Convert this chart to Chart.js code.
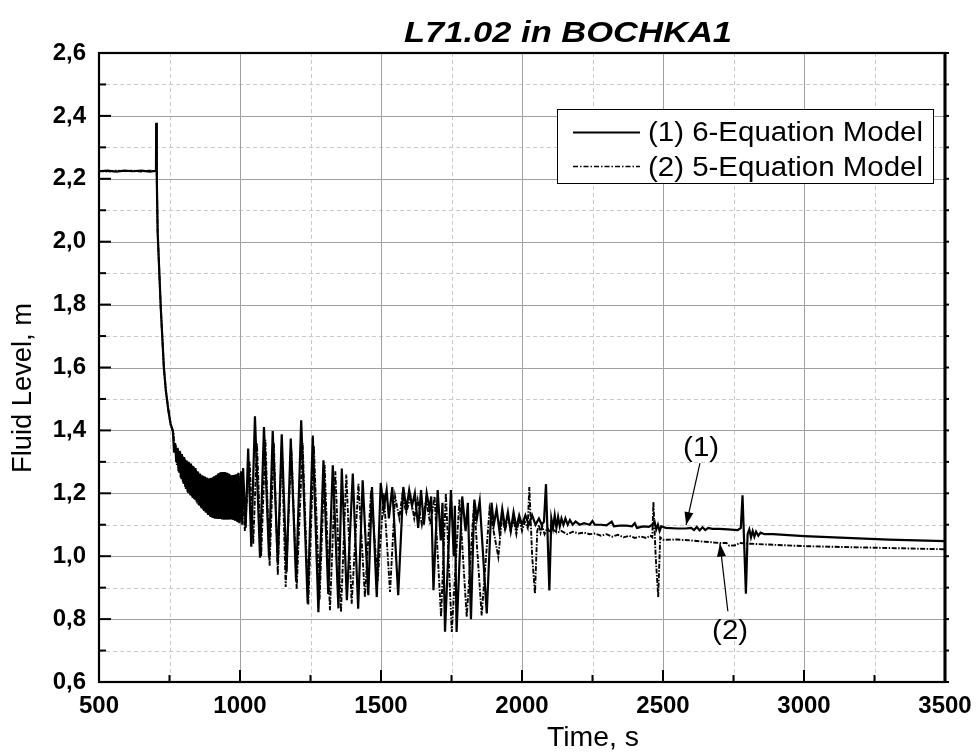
<!DOCTYPE html>
<html>
<head>
<meta charset="utf-8">
<script src="https://cdn.jsdelivr.net/npm/chart.js@4/dist/chart.umd.min.js"></script>
<style>
  html, body { margin: 0; padding: 0; background: #ffffff; }
  #wrap { width: 977px; height: 753px; }
</style>
</head>
<body>
<div id="wrap"><canvas id="c" width="977" height="753"></canvas></div>
<script>
// ---------- DATA ----------
const chartTitle = 'L71.02 in BOCHKA1';
const xAxisTitle = 'Time, s';
const yAxisTitle = 'Fluid Level, m';
const seriesNames = ['(1) 6-Equation Model', '(2) 5-Equation Model'];
const annotationLabels = ['(1)', '(2)'];

// (1) 6-Equation Model : [time s, level m]
const sixEquationPoints = [
  [500,2.224],[530,2.226],[560,2.223],[590,2.226],[620,2.224],[650,2.226],[680,2.223],[700,2.225],[702,2.226],
  [703,2.378],[705,2.20],[708,2.03],[714,1.90],[719,1.79],[725,1.687],[730,1.60],[737,1.527],[746,1.464],[754,1.42],
  [758,1.41],[762,1.40],[766,1.33],[770,1.36],[774,1.30],[778,1.345],[782,1.27],[786,1.335],[790,1.25],[794,1.325],
  [798,1.235],[802,1.315],[806,1.22],[810,1.305],[814,1.205],[818,1.30],[822,1.197],[826,1.295],[830,1.19],[834,1.287],
  [838,1.182],[842,1.28],[846,1.173],[850,1.27],[854,1.163],[858,1.263],[862,1.155],[866,1.257],[870,1.148],[874,1.254],
  [878,1.14],[882,1.25],[886,1.132],[890,1.247],[894,1.127],[898,1.249],[902,1.122],[906,1.252],[910,1.12],[914,1.256],
  [918,1.119],[922,1.262],[926,1.118],[930,1.266],[934,1.118],[938,1.268],[942,1.117],[946,1.268],[950,1.117],[954,1.265],
  [958,1.117],[962,1.262],[966,1.117],[970,1.257],[974,1.116],[978,1.258],[982,1.113],[986,1.26],[990,1.11],[994,1.265],
  [998,1.105],[1004,1.27],[1008,1.10],[1011,1.28],[1020,1.09],[1029,1.342],[1040,1.03],[1053,1.445],[1071,0.995],
  [1085,1.411],[1103,0.995],[1116,1.398],[1134,0.978],[1148,1.388],[1165,0.95],[1180,1.374],[1199,0.92],[1217,1.432],
  [1240,0.85],[1258,1.384],[1278,0.822],[1296,1.305],[1313,0.88],[1329,1.289],[1349,0.834],[1361,1.279],[1379,0.86],
  [1400,1.263],[1419,0.833],[1435,1.241],[1455,0.876],[1468,1.22],[1485,0.87],[1499,1.233],[1510,1.15],[1520,1.21],
  [1528,1.12],[1540,1.22],[1561,0.876],[1579,1.22],[1590,1.15],[1600,1.21],[1610,1.16],[1620,1.20],[1632,1.09],
  [1642,1.21],[1652,1.10],[1662,1.20],[1672,1.15],[1678,1.19],[1686,0.892],[1701,1.21],[1712,1.05],[1718,1.17],
  [1727,0.76],[1748,1.21],[1758,1.00],[1762,1.16],[1768,0.759],[1788,1.19],[1800,1.08],[1808,1.17],[1819,0.80],
  [1831,1.18],[1840,1.12],[1850,1.175],[1875,0.818],[1892,1.17],[1900,1.10],[1910,1.15],[1920,1.08],
  [1930,1.15],[1940,1.09],[1950,1.14],[1960,1.08],[1970,1.14],[1980,1.09],[1990,1.13],[2000,1.10],[2012,1.13],
  [2024,1.10],[2036,1.13],[2048,1.10],[2060,1.12],[2070,1.10],[2078,1.11],[2085,1.229],[2097,0.891],[2104,1.12],
  [2110,1.09],[2116,1.13],[2122,1.09],[2128,1.125],[2134,1.095],[2140,1.12],[2147,1.10],[2154,1.12],[2162,1.10],
  [2170,1.115],[2180,1.10],[2190,1.11],[2205,1.10],[2220,1.105],[2240,1.10],[2250,1.112],[2258,1.10],[2280,1.10],
  [2300,1.098],[2318,1.11],[2326,1.095],[2345,1.097],[2370,1.097],[2390,1.095],[2400,1.105],[2408,1.09],[2430,1.095],
  [2450,1.093],[2462,1.10],[2470,1.11],[2476,1.085],[2482,1.10],[2488,1.08],[2494,1.095],[2510,1.09],[2550,1.088],
  [2580,1.088],[2600,1.09],[2610,1.083],[2620,1.093],[2630,1.082],[2640,1.092],[2650,1.083],[2660,1.09],[2675,1.087],
  [2700,1.087],[2730,1.085],[2765,1.083],[2776,1.09],[2782,1.194],[2794,0.881],[2800,1.07],[2806,1.085],[2812,1.06],
  [2818,1.08],[2824,1.062],[2830,1.078],[2838,1.065],[2846,1.075],[2860,1.07],[2890,1.07],[3000,1.064],[3128,1.059],
  [3300,1.053],[3500,1.048]
];

// (2) 5-Equation Model : [time s, level m]
const fiveEquationPoints = [
  [500,2.225],[530,2.223],[560,2.226],[590,2.224],[620,2.226],[650,2.223],[680,2.226],[700,2.224],[702,2.225],
  [703,2.375],[705,2.20],[708,2.03],[714,1.90],[719,1.79],[725,1.687],[730,1.60],[737,1.527],[746,1.464],[754,1.42],
  [760,1.40],[764,1.395],[768,1.33],[772,1.355],[776,1.29],[780,1.342],[784,1.265],[788,1.332],[792,1.245],[796,1.32],
  [800,1.228],[804,1.31],[808,1.213],[812,1.302],[816,1.2],[820,1.296],[824,1.193],[828,1.29],[832,1.185],[836,1.283],
  [840,1.177],[844,1.275],[848,1.168],[852,1.267],[856,1.16],[860,1.26],[864,1.152],[868,1.255],[872,1.144],[876,1.252],
  [880,1.136],[884,1.248],[888,1.13],[892,1.247],[896,1.125],[900,1.25],[904,1.121],[908,1.254],[912,1.12],[916,1.258],
  [920,1.118],[924,1.264],[928,1.118],[932,1.267],[936,1.117],[940,1.268],[944,1.117],[948,1.267],[952,1.117],[956,1.264],
  [960,1.117],[964,1.26],[968,1.117],[972,1.257],[976,1.115],[980,1.259],[984,1.112],[988,1.262],[992,1.108],[996,1.262],
  [1000,1.11],[1008,1.25],[1017,1.08],[1034,1.30],[1047,1.04],[1060,1.36],[1075,1.00],[1090,1.37],[1105,0.97],
  [1120,1.36],[1134,0.94],[1148,1.35],[1162,0.902],[1182,1.34],[1201,0.897],[1222,1.36],[1242,0.844],[1262,1.35],
  [1282,0.86],[1300,1.29],[1319,0.828],[1338,1.27],[1358,0.822],[1377,1.26],[1396,0.849],[1420,1.23],[1443,0.87],
  [1465,1.21],[1488,0.92],[1510,1.20],[1532,0.886],[1550,1.19],[1565,1.12],[1575,1.19],[1590,1.14],[1605,1.19],
  [1618,1.12],[1630,1.18],[1645,1.10],[1660,1.18],[1675,1.10],[1690,1.19],[1713,0.807],[1730,1.20],[1751,0.759],
  [1778,1.18],[1804,0.807],[1830,1.17],[1857,0.812],[1885,1.15],[1916,0.998],[1930,1.13],[1940,1.08],[1950,1.13],
  [1960,1.08],[1970,1.12],[1980,1.07],[1990,1.12],[2000,1.08],[2010,1.11],[2020,1.09],[2026,1.22],[2036,1.0],
  [2046,0.881],[2054,1.08],[2060,1.10],[2066,1.075],[2072,1.095],[2080,1.07],[2090,1.09],[2100,1.075],[2110,1.085],
  [2125,1.075],[2140,1.08],[2160,1.07],[2180,1.078],[2200,1.072],[2220,1.075],[2240,1.07],[2260,1.072],[2280,1.065],
  [2300,1.07],[2320,1.062],[2340,1.068],[2360,1.06],[2380,1.065],[2400,1.058],[2420,1.063],[2440,1.058],[2455,1.065],
  [2462,1.06],[2466,1.172],[2474,1.0],[2483,0.87],[2490,1.06],[2500,1.052],[2550,1.053],[2600,1.05],[2650,1.046],
  [2700,1.042],[2725,1.042],[2735,1.033],[2760,1.035],[2770,1.042],[2800,1.04],[3000,1.032],[3250,1.027],[3500,1.022]
];

// axis ranges / steps
const xRange = [500, 3500];
const yRange = [0.6, 2.6];
const xStep = 500;
const yStep = 0.2;

// annotation anchors: [label x (s), label baseline y (m), arrow tail x, tail y, arrow tip x, tip y]
const annotation1 = [2635, 1.319, 2631, 1.296, 2582, 1.099];
const annotation2 = [2738, 0.736, 2730, 0.825, 2702, 1.040];

// ---------- DRAWING ----------
const FONT = '"Liberation Sans", Arial, sans-serif';

function toXY(arr) { return arr.map(p => ({ x: p[0], y: p[1] })); }

function arrow(ctx, x1, y1, x2, y2) {
  ctx.beginPath(); ctx.moveTo(x1, y1); ctx.lineTo(x2, y2); ctx.stroke();
  const ang = Math.atan2(y2 - y1, x2 - x1);
  const L = 13, W = 4.5;
  ctx.beginPath();
  ctx.moveTo(x2, y2);
  ctx.lineTo(x2 - L * Math.cos(ang) + W * Math.sin(ang), y2 - L * Math.sin(ang) - W * Math.cos(ang));
  ctx.lineTo(x2 - L * Math.cos(ang) - W * Math.sin(ang), y2 - L * Math.sin(ang) + W * Math.cos(ang));
  ctx.closePath(); ctx.fill();
}

function fitText(ctx, text, x, y, width, align) {
  const w = ctx.measureText(text).width;
  const s = width / w;
  ctx.save();
  ctx.translate(x, y);
  ctx.scale(s, 1);
  ctx.textAlign = align;
  ctx.fillText(text, 0, 0);
  ctx.restore();
}

const decor = {
  id: 'decor',
  beforeDraw(chart) {
    const ctx = chart.ctx;
    ctx.save(); ctx.fillStyle = '#ffffff'; ctx.fillRect(0, 0, chart.width, chart.height); ctx.restore();
  },
  beforeDatasetsDraw(chart) {
    const { ctx, chartArea: a, scales: { x, y } } = chart;
    const xt = x.ticks.map(t => t.value), yt = y.ticks.map(t => t.value);
    ctx.save();
    ctx.lineWidth = 1;
    ctx.strokeStyle = '#c9c9c9'; ctx.setLineDash([4, 3]);
    for (let i = 0; i < yt.length - 1; i++) {
      const py = Math.round(y.getPixelForValue((yt[i] + yt[i + 1]) / 2)) + 0.5;
      ctx.beginPath(); ctx.moveTo(a.left, py); ctx.lineTo(a.right, py); ctx.stroke();
    }
    for (let i = 0; i < xt.length - 1; i++) {
      const px = Math.round(x.getPixelForValue((xt[i] + xt[i + 1]) / 2)) + 0.5;
      ctx.beginPath(); ctx.moveTo(px, a.top); ctx.lineTo(px, a.bottom); ctx.stroke();
    }
    ctx.setLineDash([]); ctx.strokeStyle = '#a0a0a0';
    yt.forEach(v => { const py = Math.round(y.getPixelForValue(v)) + 0.5;
      ctx.beginPath(); ctx.moveTo(a.left, py); ctx.lineTo(a.right, py); ctx.stroke(); });
    xt.forEach(v => { const px = Math.round(x.getPixelForValue(v)) + 0.5;
      ctx.beginPath(); ctx.moveTo(px, a.top); ctx.lineTo(px, a.bottom); ctx.stroke(); });
    ctx.restore();
  },
  afterDatasetsDraw(chart) {
    const { ctx, chartArea: a, scales: { x, y } } = chart;
    const xt = x.ticks.map(t => t.value), yt = y.ticks.map(t => t.value);
    ctx.save();
    ctx.strokeStyle = '#000'; ctx.fillStyle = '#000';
    ctx.lineWidth = 2;
    const yMinor = [], xMinor = [];
    for (let i = 0; i < yt.length - 1; i++) yMinor.push((yt[i] + yt[i + 1]) / 2);
    for (let i = 0; i < xt.length - 1; i++) xMinor.push((xt[i] + xt[i + 1]) / 2);
    yt.forEach(v => { const py = y.getPixelForValue(v);
      ctx.beginPath(); ctx.moveTo(a.left, py); ctx.lineTo(a.left + 12, py); ctx.stroke();
      ctx.beginPath(); ctx.moveTo(a.right, py); ctx.lineTo(a.right + 4, py); ctx.stroke(); });
    yMinor.forEach(v => { const py = y.getPixelForValue(v);
      ctx.beginPath(); ctx.moveTo(a.left, py); ctx.lineTo(a.left + 7, py); ctx.stroke();
      ctx.beginPath(); ctx.moveTo(a.right, py); ctx.lineTo(a.right + 4, py); ctx.stroke(); });
    xt.forEach(v => { const px = x.getPixelForValue(v);
      ctx.beginPath(); ctx.moveTo(px, a.bottom); ctx.lineTo(px, a.bottom - 12); ctx.stroke(); });
    xMinor.forEach(v => { const px = x.getPixelForValue(v);
      ctx.beginPath(); ctx.moveTo(px, a.bottom); ctx.lineTo(px, a.bottom - 7); ctx.stroke(); });
    ctx.lineWidth = 2.2;
    ctx.strokeRect(a.left, a.top, a.right - a.left, a.bottom - a.top);
    ctx.lineWidth = 3;
    ctx.beginPath(); ctx.moveTo(a.right, a.top - 1); ctx.lineTo(a.right, a.bottom + 1); ctx.stroke();

    // legend
    const lx = 557, ly = 109, lw = 376, lh = 74;
    ctx.fillStyle = '#fff'; ctx.fillRect(lx, ly, lw, lh);
    ctx.lineWidth = 1; ctx.strokeStyle = '#000'; ctx.strokeRect(lx + 0.5, ly + 0.5, lw, lh);
    ctx.fillStyle = '#000';
    ctx.lineWidth = 1.8;
    ctx.beginPath(); ctx.moveTo(573, 132.5); ctx.lineTo(640, 132.5); ctx.stroke();
    ctx.lineWidth = 1.3; ctx.setLineDash([5, 2, 1.5, 2]);
    ctx.beginPath(); ctx.moveTo(573, 166.5); ctx.lineTo(640, 166.5); ctx.stroke();
    ctx.setLineDash([]);
    ctx.font = '27px ' + FONT; ctx.textBaseline = 'alphabetic';
    fitText(ctx, seriesNames[0], 648, 141, 275, 'left');
    fitText(ctx, seriesNames[1], 648, 176, 275, 'left');

    // annotations
    ctx.font = '28px ' + FONT;
    fitText(ctx, annotationLabels[0], x.getPixelForValue(annotation1[0]), y.getPixelForValue(annotation1[1]), 36, 'center');
    fitText(ctx, annotationLabels[1], x.getPixelForValue(annotation2[0]), y.getPixelForValue(annotation2[1]), 36, 'center');
    ctx.lineWidth = 1.2;
    arrow(ctx, x.getPixelForValue(annotation1[2]), y.getPixelForValue(annotation1[3]),
               x.getPixelForValue(annotation1[4]), y.getPixelForValue(annotation1[5]));
    arrow(ctx, x.getPixelForValue(annotation2[2]), y.getPixelForValue(annotation2[3]),
               x.getPixelForValue(annotation2[4]), y.getPixelForValue(annotation2[5]));

    // title
    ctx.font = 'italic bold 30px ' + FONT;
    fitText(ctx, chartTitle, 568, 42, 328, 'center');
    // axis titles
    ctx.font = '27px ' + FONT;
    fitText(ctx, xAxisTitle, 593, 746, 92, 'center');
    ctx.save();
    ctx.translate(31, 388); ctx.rotate(-Math.PI / 2);
    fitText(ctx, yAxisTitle, 0, 0, 170, 'center');
    ctx.restore();
    ctx.restore();
  }
};

new Chart(document.getElementById('c'), {
  type: 'line',
  data: {
    datasets: [
      { label: seriesNames[0], data: toXY(sixEquationPoints), borderColor: '#000', borderWidth: 2.2,
        pointRadius: 0, fill: false, tension: 0, order: 2 },
      { label: seriesNames[1], data: toXY(fiveEquationPoints), borderColor: '#000', borderWidth: 1.9,
        borderDash: [5, 1.5, 1.5, 1.5], pointRadius: 0, fill: false, tension: 0, order: 1 }
    ]
  },
  options: {
    responsive: false, animation: false, devicePixelRatio: 1,
    layout: { padding: { top: 53, right: 32, left: 0, bottom: 0 } },
    plugins: { legend: { display: false }, title: { display: false }, tooltip: { enabled: false } },
    scales: {
      x: {
        type: 'linear', min: xRange[0], max: xRange[1],
        ticks: { stepSize: xStep, padding: 10, color: '#000', font: { family: FONT, size: 24, weight: 'bold' },
                 maxRotation: 0, autoSkip: false, callback: v => String(v) },
        grid: { display: false, drawTicks: false }, border: { display: false },
        afterFit: s => { s.height = 71; s.paddingLeft = 0; s.paddingRight = 0; }
      },
      y: {
        type: 'linear', min: yRange[0], max: yRange[1],
        ticks: { stepSize: yStep, padding: 13, color: '#000', font: { family: FONT, size: 24, weight: 'bold' },
                 autoSkip: false, callback: v => v.toFixed(1).replace('.', ',') },
        grid: { display: false, drawTicks: false }, border: { display: false },
        afterFit: s => { s.width = 99; s.paddingTop = 0; s.paddingBottom = 0; }
      }
    }
  },
  plugins: [decor]
});
</script>
</body>
</html>
